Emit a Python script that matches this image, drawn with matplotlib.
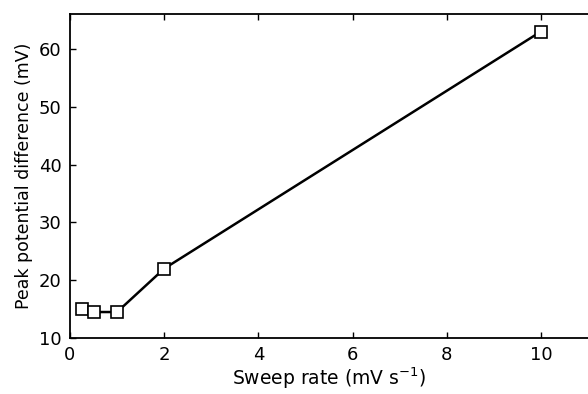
import matplotlib.pyplot as plt

# donnees
sweep_rate = [0.25, 0.5, 1.0, 2.0, 10.0]
peak_diff = [15.0, 14.5, 14.5, 22.0, 63.0]
x_ticks = [0, 2, 4, 6, 8, 10]
y_ticks = [10, 20, 30, 40, 50, 60]

fig = plt.figure(figsize=(5.88, 3.94), dpi=100)
ax = fig.add_axes([0.119, 0.142, 0.881, 0.822])

ax.plot(sweep_rate, peak_diff, color='black', linewidth=1.8,
        marker='s', markersize=8, markerfacecolor='white',
        markeredgecolor='black', markeredgewidth=1.2)

ax.set_xlim(0, 11)
ax.set_ylim(10, 66)
ax.set_xticks(x_ticks)
ax.set_yticks(y_ticks)
ax.tick_params(direction='in', length=4, width=1, labelsize=13, top=True)
ax.tick_params(axis='x', pad=6)
ax.tick_params(axis='y', pad=6)
ax.spines['right'].set_visible(False)
for s in ['left', 'bottom', 'top']:
    ax.spines[s].set_linewidth(1.3)

ax.set_xlabel('Sweep rate (mV s$^{-1}$)', fontsize=13.5, labelpad=1)
ax.set_ylabel('Peak potential difference (mV)', fontsize=12.5, labelpad=4)

fig.savefig('out.png', dpi=100)
